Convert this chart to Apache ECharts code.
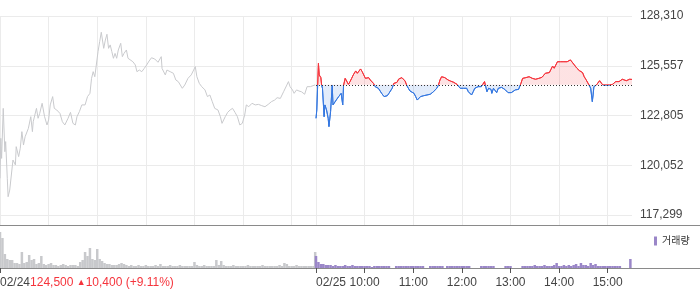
<!DOCTYPE html>
<html><head><meta charset="utf-8">
<script src="https://cdn.jsdelivr.net/npm/echarts@6/dist/echarts.min.js"></script>
<style>html,body{margin:0;padding:0;background:#fff}#c{width:700px;height:289px}</style>
</head><body><div id="c"></div>
<script>
// ---- labels / ticks ----
const dateLabels = ['02/24', '02/25'];
const timeLabels = ['10:00', '11:00', '12:00', '13:00', '14:00', '15:00'];
const yTicks = [117299, 120052, 122805, 125557, 128310];
const prevClose = 124500;
const change = 10400;
const changePct = 9.11;
const legendName = '거래량';

// ---- 02/24 price: [minute from 09:00, price] ----
const day1Price = [[0,119330],[1,121540],[2,120430],[4,123200],[6,120800],[7,121360],[9,119330],[10,118310],[12,118680],[14,118680],[16,120340],[19,120070],[20,121080],[23,120530],[25,120990],[27,121910],[29,121170],[31,121630],[33,121730],[35,122090],[38,122740],[40,121910],[41,122460],[43,122830],[45,123200],[47,122650],[49,122920],[52,123480],[55,122740],[58,122280],[60,122560],[62,123390],[65,123850],[67,123200],[70,123110],[74,122920],[77,122460],[80,122280],[82,122280],[84,122650],[87,122980],[90,122370],[93,122280],[95,122740],[98,123020],[101,123390],[105,123390],[108,123850],[111,124030],[113,124860],[115,125230],[117,124950],[119,125050],[121,126340],[123,126890],[125,127410],[128,126520],[130,126980],[132,127300],[134,126520],[136,126710],[138,126340],[140,125970],[142,126240],[144,125970],[146,126430],[149,126800],[151,126060],[153,126240],[156,126430],[158,125970],[160,125880],[164,125780],[167,125600],[169,125230],[172,125320],[175,125230],[178,125410],[181,125600],[184,125820],[187,126000],[191,125930],[195,125750],[199,126060],[200,125410],[204,125050],[206,125320],[210,125230],[214,125140],[217,124770],[220,124680],[222,124770],[225,124310],[228,124490],[232,124860],[236,125050],[239,125320],[241,125510],[243,124950],[246,124580],[249,124400],[253,124220],[256,123850],[259,123940],[262,123570],[265,123200],[269,123110],[272,122740],[274,122370],[278,122740],[281,122980],[284,123110],[287,123200],[290,122980],[293,122740],[296,122280],[299,122370],[302,122830],[304,123390],[307,123290],[311,123480],[315,123390],[319,123420],[323,123350],[327,123290],[331,123420],[335,123570],[339,123660],[342,123790],[346,123750],[350,124120],[354,124490],[356,124680],[358,124400],[361,124220],[363,124030],[366,124220],[369,124160],[372,124120],[376,123980],[379,124400],[383,124400],[389,124500]];

// ---- 02/25 price: [minute from 09:00, price] ----
const day2Price = [[0,122650],[1,123110],[3,125690],[4,125050],[6,124900],[7,124470],[8,124310],[10,122740],[11,123390],[13,123110],[15,122650],[16,122190],[18,123020],[20,124470],[21,123390],[23,123480],[25,123660],[26,123570],[28,123850],[30,123750],[31,124030],[33,123390],[34,124470],[36,124860],[38,124770],[40,124530],[42,124680],[44,124860],[46,125050],[49,125270],[51,125140],[53,125230],[55,125380],[57,125230],[59,125140],[61,124860],[63,124820],[65,124900],[67,124770],[69,124860],[71,124580],[73,124400],[75,124400],[77,124310],[79,124220],[81,124030],[84,123850],[86,123750],[88,123900],[90,124030],[92,123940],[94,124310],[96,124580],[98,124580],[100,124640],[102,124820],[104,124860],[106,124900],[108,124820],[110,124710],[112,124470],[114,124310],[116,124160],[118,124120],[121,124030],[123,123850],[125,123660],[127,123750],[129,123850],[131,123750],[133,123900],[135,123790],[137,123940],[139,123880],[141,123980],[143,124030],[145,124120],[147,124160],[149,124310],[151,124470],[153,124770],[155,124950],[157,125050],[159,124900],[161,124820],[163,124770],[166,124710],[168,124680],[170,124640],[172,124580],[174,124530],[176,124470],[178,124310],[180,124220],[182,124310],[184,124270],[186,124310],[188,124120],[192,123940],[194,124120],[196,124310],[198,124360],[200,124400],[202,124310],[204,124400],[206,124490],[208,124680],[209,124490],[211,124120],[213,124310],[216,124250],[217,124030],[219,124310],[221,124360],[223,124070],[225,124310],[227,124350],[229,124360],[231,124310],[233,124250],[235,124180],[237,124070],[239,124120],[241,124070],[243,124180],[246,124220],[248,124180],[250,124250],[252,124310],[253,124590],[255,124860],[257,124860],[259,124900],[261,124860],[263,124950],[265,124990],[267,124860],[269,124950],[271,124810],[273,124770],[275,124860],[277,124770],[279,124920],[281,124990],[283,125140],[285,125230],[288,125180],[290,125360],[292,125540],[294,125420],[296,125510],[298,125780],[300,125840],[302,125780],[304,125820],[306,125780],[308,125820],[310,125780],[312,125880],[314,125880],[316,125780],[318,125650],[320,125600],[322,125420],[325,125290],[327,125230],[329,125180],[331,124950],[333,124810],[335,124730],[337,124490],[339,124310],[341,123570],[342,123940],[343,124400],[346,124490],[348,124590],[350,124730],[352,124620],[354,124490],[356,124440],[358,124490],[360,124440],[362,124490],[364,124590],[366,124530],[368,124590],[370,124680],[372,124730],[374,124680],[376,124770],[378,124810],[380,124730],[383,124730],[385,124770],[387,124810],[390,124800]];

// ---- volume (thousand shares), one value per 3 minutes ----
const volStep = 3;
const day1Vol = [36,30,14,9,8,8,5,5,4,16, 5,6,13,8,9,4,5,12,4,3, 4,5,3,3,2,3,4,3,2,3, 3,3,2,6,8,16,12,20,9,8, 19,9,7,5,4,4,3,3,3,4, 5,4,3,2,3,2,2,3,2,2, 3,2,2,2,3,2,4,2,2,2, 3,2,2,2,3,2,2,2,2,2, 6,3,2,2,3,2,2,2,2,8, 3,7,3,2,2,2,3,2,2,2, 2,2,3,2,2,2,2,2,3,2, 2,2,2,2,2,3,2,5,4,2, 2,2,3,2,2,2,2,2,2,2];
const day1CloseVol = 16;
const day2Vol = [12,6,4,4,3,3,3,2,3,2, 2,2,3,2,2,3,2,2,2,2, 2,2,2,1,2,2,2,2,2,2, 2,0,0,2,2,2,2,2,2,2, 2,2,2,2,2,0,0,2,2,2, 2,2,2,0,2,2,2,2,2,2, 2,2,2,2,0,0,0,0,2,2, 2,2,2,2,0,0,0,0,2,2, 2,0,0,0,0,2,2,2,2,2, 3,2,2,2,3,2,2,2,3,5, 2,2,3,2,3,2,3,4,2,5, 3,3,2,5,3,4,2,2,2,2, 2,2,2,2,2,2,0,0,0,0];
const day2CloseVol = 9;

// ---- build ----
const DAY = 390, TOTAL = 780;
const cats = Array.from({length: TOTAL + 1}, (_, i) => String(i));
const fmt = v => Math.round(v).toLocaleString('en-US');
const s1 = day1Price.map(d => [d[0], d[1]]);
const s2 = day2Price.map(d => [d[0] + DAY, d[1]]);
const v1 = day1Vol.map((v, i) => [i * volStep, v]).concat([[DAY - 1, day1CloseVol]]);
const v2 = day2Vol.map((v, i) => [DAY + i * volStep, v]).concat([[TOTAL - 2, day2CloseVol]]);
const isGrid = i => (i <= DAY && i % 60 === 0) || (i >= DAY && (i - DAY) % 60 === 0);
const isHour = i => i > DAY && i < TOTAL && (i - DAY) % 60 === 0;
const FONT = 'Arial, "Liberation Sans", "Noto Sans CJK KR", sans-serif';
const RED = '#f5343c', BLUE = '#3477e0';
const RED_A = 'rgba(245,52,60,0.14)', BLUE_A = 'rgba(52,119,224,0.14)';

const chart = echarts.init(document.getElementById('c'), null, {renderer: 'canvas'});
chart.setOption({
  animation: false,
  backgroundColor: '#fff',
  textStyle: {fontFamily: FONT},
  legend: {
    data: [legendName], left: 649, top: 231, icon: 'rect', itemWidth: 3, itemHeight: 9,
    textStyle: {fontSize: 10, color: '#333', fontFamily: FONT}, selectedMode: false
  },
  grid: [
    {left: 0, top: 16, width: 632, height: 199, outerBoundsMode: 'none'},
    {left: 0, top: 16, width: 632, height: 209, outerBoundsMode: 'none'},
    {left: 0, top: 16, width: 700, height: 209, outerBoundsMode: 'none'},
    {left: 0, top: 226, width: 632, height: 42, outerBoundsMode: 'none'},
    {left: 0, top: 226, width: 700, height: 42, outerBoundsMode: 'none'}
  ],
  xAxis: [
    {gridIndex: 0, type: 'category', data: cats, boundaryGap: false, show: false},
    {gridIndex: 1, type: 'category', data: cats, boundaryGap: false,
      axisLine: {show: false}, axisTick: {show: false}, axisLabel: {show: false},
      splitLine: {show: true, interval: (i) => isGrid(i), lineStyle: {color: '#ebebeb', width: 1}}},
    {gridIndex: 2, type: 'value', min: 0, max: 1, axisLine: {show: true, lineStyle: {color: '#8a8a8a', width: 1}},
      axisTick: {show: false}, axisLabel: {show: false}, splitLine: {show: false}},
    {gridIndex: 3, type: 'category', data: cats, boundaryGap: false, position: 'bottom', offset: 0,
      axisLine: {show: false},
      axisTick: {show: true, interval: (i) => i === 0 || i === DAY || isHour(i), length: 5, lineStyle: {color: '#555'}},
      axisLabel: {
        show: true, interval: (i) => i === 0 || i === DAY, align: 'left', margin: 9, fontSize: 12, color: '#444',
        formatter: (v, i) => i === 0
          ? dateLabels[0] + '{r|' + fmt(prevClose) + ' }{t|▲}{r|' + fmt(change) + ' (+' + changePct.toFixed(2) + '%)}'
          : dateLabels[1],
        rich: {r: {color: RED, fontSize: 12, fontFamily: FONT}, t: {color: RED, fontSize: 9, fontFamily: FONT}}
      },
      splitLine: {show: false}},
    {gridIndex: 3, type: 'category', data: cats, boundaryGap: false, position: 'bottom', offset: 0,
      axisLine: {show: false}, axisTick: {show: false}, splitLine: {show: false},
      axisLabel: {show: true, interval: (i) => isHour(i), align: 'center', margin: 9, fontSize: 12, color: '#444',
        formatter: (v, i) => timeLabels[(i - DAY) / 60 - 1]}},
    {gridIndex: 4, type: 'value', min: 0, max: 1, axisLine: {show: true, lineStyle: {color: '#8a8a8a', width: 1}},
      axisTick: {show: false}, axisLabel: {show: false}, splitLine: {show: false}}
  ],
  yAxis: [
    {gridIndex: 0, type: 'value', position: 'right', min: yTicks[0], max: yTicks[yTicks.length - 1],
      interval: (yTicks[yTicks.length - 1] - yTicks[0]) / (yTicks.length - 1),
      axisLine: {show: false}, axisTick: {show: false},
      axisLabel: {margin: 8, fontSize: 12, color: '#444', formatter: fmt},
      splitLine: {show: true, lineStyle: {color: '#ebebeb', width: 1}}},
    {gridIndex: 1, type: 'value', show: false, min: 0, max: 1},
    {gridIndex: 2, type: 'value', show: false, min: 0, max: 1},
    {gridIndex: 3, type: 'value', show: false, min: 0, max: 42},
    {gridIndex: 4, type: 'value', show: false, min: 0, max: 1}
  ],
  series: [
    {type: 'line', xAxisIndex: 0, yAxisIndex: 0, data: s1, showSymbol: false, symbol: 'none',
      lineStyle: {color: '#c9cacd', width: 1}, itemStyle: {color: '#c9cacd'}, z: 3},
    {id: 'day2', type: 'line', xAxisIndex: 0, yAxisIndex: 0, data: s2, showSymbol: false, symbol: 'none',
      lineStyle: {width: 1, color: RED}, areaStyle: {origin: prevClose, color: RED_A, opacity: 1}, z: 4,
      markLine: {silent: true, symbol: ['none', 'none'], label: {show: false}, animation: false,
        lineStyle: {color: '#333', type: [1, 2], width: 1},
        data: [[{coord: [DAY, prevClose]}, {coord: [TOTAL, prevClose]}]]}},
    {type: 'bar', xAxisIndex: 3, yAxisIndex: 3, data: v1, barWidth: 2.5, barGap: '-100%',
      itemStyle: {color: '#c8c9cc'}, silent: true},
    {type: 'bar', name: legendName, xAxisIndex: 3, yAxisIndex: 3, data: v2, barWidth: 2.5, barGap: '-100%',
      itemStyle: {color: '#9a86c8'}, silent: true}
  ]
});

// split colour at the previous close, located through the chart's own y scale
const H = chart.getHeight();
const yb = chart.convertToPixel({yAxisIndex: 0}, prevClose);
const f = Math.min(Math.max(yb / H, 0), 1);
const grad = (a, b) => new echarts.graphic.LinearGradient(0, 0, 0, H, [
  {offset: 0, color: a}, {offset: f, color: a}, {offset: f, color: b}, {offset: 1, color: b}
], true);
chart.setOption({series: [{id: 'day2', lineStyle: {color: grad(RED, BLUE)}, areaStyle: {color: grad(RED_A, BLUE_A)}}]});
</script></body></html>
